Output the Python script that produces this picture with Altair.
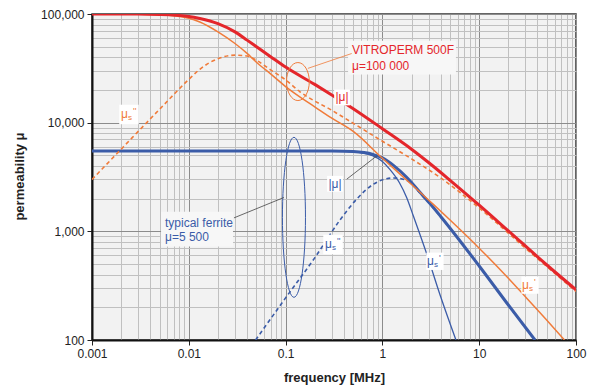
import json
import altair as alt
import pandas as pd

RED = "#e4262b"
ORANGE = "#f07b3a"
BLUE = "#3b5ca8"
FONT = "Liberation Sans"

# ---------------- data (frequency in MHz, permeability) ----------------
# VITROPERM 500F |mu|
vp_abs_f = [0.001, 0.003, 0.005, 0.01, 0.013, 0.02, 0.03, 0.04, 0.05, 0.07, 0.1, 0.2, 0.3,
            0.5, 1, 2, 3, 5, 10, 20, 50, 100]
vp_abs_mu = [100000, 99800, 99000, 95000, 91000, 81600, 68500, 57500, 50000, 40500, 32500, 22500,
             18000, 13450, 8800, 5700, 4300, 2950, 1740, 1010, 490, 290]
# VITROPERM 500F mu_s'
vp_re_f = [0.001, 0.003, 0.005, 0.01, 0.013, 0.02, 0.03, 0.04, 0.05, 0.07, 0.1, 0.14, 0.2, 0.3,
           0.5, 1, 2, 3.36, 5, 10, 20, 30, 50, 76]
vp_re_mu = [100000, 99600, 98500, 91500, 84500, 68500, 53500, 43400, 36000, 28100, 21500, 17300,
            14000, 11000, 8300, 4700, 2700, 1770, 1270, 700, 370, 250, 152, 100]
# VITROPERM 500F mu_s''
vp_im_f = [0.001, 0.002, 0.005, 0.01, 0.013, 0.02, 0.03, 0.04, 0.05, 0.07, 0.1, 0.14, 0.3, 1, 2,
           3.9, 10, 30, 100]
vp_im_mu = [3000, 5700, 13300, 25000, 31000, 38800, 41800, 41000, 37500, 30600, 24800, 19300,
            13000, 6750, 4640, 3150, 1640, 700, 280]
# typical ferrite |mu|
fe_abs_f = [0.001, 0.1, 0.3, 0.5, 0.8, 1, 1.3, 1.78, 2.6, 3.1, 4, 10, 20, 37.7]
fe_abs_mu = [5500, 5500, 5480, 5420, 5100, 4750, 4050, 3150, 2150, 1800, 1370, 480, 210, 100]
# typical ferrite mu_s'
fe_re_f = [0.001, 0.3, 0.5, 0.8, 1, 1.2, 1.5, 1.78, 2.08, 2.87, 4, 5.75]
fe_re_mu = [5500, 5490, 5400, 4950, 4400, 3700, 2800, 2050, 1400, 620, 250, 100]
# typical ferrite mu_s''
fe_im_f = [0.049, 0.1, 0.2, 0.36, 0.54, 0.8, 1.3, 1.78, 2.44, 3.1, 4, 10, 20, 37.7]
fe_im_mu = [100, 244, 570, 1250, 1970, 2700, 3100, 2950, 2250, 1790, 1360, 477, 209, 99]

x_major = [0.001, 0.01, 0.1, 1, 10, 100]
y_major = [100, 1000, 10000, 100000]
x_vals = [float(f"{k}e{e}") for e in range(-3, 2) for k in range(1, 10)] + [100.0]
y_vals = [float(f"{k}e{e}") for e in range(2, 5) for k in range(1, 10)] + [100000.0]

# annotation texts / anchors (data coordinates)
small_f = [0.383, 0.324, 0.00241, 0.309, 3.49, 33.5]
small_mu = [17060, 2740, 11900, 757, 530, 320]
small_base = ["|μ|", "|μ|", "μ", "μ", "μ", "μ"]
small_sub = ["", "", "s", "s", "s", "s"]
small_prime = ["", "", "''", "''", "'", "'"]
small_color = [RED, BLUE, ORANGE, BLUE, BLUE, ORANGE]
small_box = [250, 250, 380, 380, 300, 300]

big_text = ["VITROPERM 500F", "μ=100 000", "typical ferrite", "μ=5 500"]
big_f = [0.485, 0.485, 0.00568, 0.00568]
big_mu = [46900, 33500, 1200, 896]
big_color = [RED, RED, BLUE, BLUE]

box_f1 = [0.442, 0.00517]
box_f2 = [5.75, 0.0286]
box_mu1 = [56600, 1517]
box_mu2 = [27700, 726]

lead_f1 = [0.170, 0.0962, 0.428]
lead_mu1 = [31600, 2050, 3020]
lead_f2 = [0.482, 0.0293, 0.871]
lead_mu2 = [43300, 1330, 4930]
lead_color = [ORANGE, "#444444", "#444444"]

ell_f = [0.134, 0.122]
ell_mu = [23900, 1346]
ell_color = [ORANGE, BLUE]

# ---------------- scales / axes ----------------
def is_major(vals):
    return "indexof(" + json.dumps(vals) + ", datum.value) >= 0"

x_axis = alt.Axis(
    values=x_vals, format="~g", labelExpr=is_major(x_major) + " ? datum.label : ''",
    labelFlush=False, labelOverlap=False, grid=True,
    gridColor={"condition": {"test": is_major(x_major), "value": "#8c8c8c"}, "value": "#c0c0c0"},
    tickOpacity={"condition": {"test": is_major(x_major), "value": 1}, "value": 0},
    tickColor="#222222", tickSize=5, domainColor="#111111", domainWidth=2,
    labelFont=FONT, labelFontSize=12, labelColor="#222222", labelPadding=3,
    title="frequency [MHz]", titleFont=FONT, titleFontSize=13, titleFontWeight="bold",
    titleColor="#222222", titleY=31,
)
y_axis = alt.Axis(
    values=y_vals, format=",d", labelExpr=is_major(y_major) + " ? datum.label : ''",
    labelFlush=False, labelOverlap=False, grid=True,
    gridColor={"condition": {"test": is_major(y_major), "value": "#8c8c8c"}, "value": "#c0c0c0"},
    tickOpacity={"condition": {"test": is_major(y_major), "value": 1}, "value": 0},
    tickColor="#222222", tickSize=5, domainColor="#111111", domainWidth=2,
    labelFont=FONT, labelFontSize=12, labelColor="#222222", labelPadding=3,
    title="permeability μ", titleFont=FONT, titleFontSize=13, titleFontWeight="bold",
    titleColor="#222222", titleX=-66, titleY=162,
)
xs = alt.Scale(type="log", domain=[0.001, 100], nice=False)
ys = alt.Scale(type="log", domain=[100, 100000], nice=False)


def X(field="f"):
    return alt.X(f"{field}:Q", scale=xs, axis=x_axis)


def Y(field="mu"):
    return alt.Y(f"{field}:Q", scale=ys, axis=y_axis)


def curve(fs, mus, color, width, dash=None):
    df = pd.DataFrame({"f": fs, "mu": mus})
    kw = dict(color=color, strokeWidth=width, interpolate="monotone", clip=True)
    if dash:
        kw["strokeDash"] = dash
    return alt.Chart(df).mark_line(**kw).encode(x=X(), y=Y(), order=alt.Order("f:Q"))


boxes = alt.Chart(pd.DataFrame({"f": box_f1, "f2": box_f2, "mu": box_mu1, "mu2": box_mu2})).mark_rect(
    fill="#f7f7f7").encode(x=X(), x2="f2:Q", y=Y(), y2="mu2:Q")

curves = [
    curve(fe_re_f, fe_re_mu, BLUE, 1.3),
    curve(fe_im_f, fe_im_mu, BLUE, 1.6, [4, 3]),
    curve(fe_abs_f, fe_abs_mu, BLUE, 3),
    curve(vp_im_f, vp_im_mu, ORANGE, 1.6, [4, 3]),
    curve(vp_re_f, vp_re_mu, ORANGE, 1.5),
    curve(vp_abs_f, vp_abs_mu, RED, 3),
]

ell_df = pd.DataFrame({"f": ell_f, "mu": ell_mu, "c": ell_color})
ell1 = alt.Chart(ell_df.iloc[[0]]).mark_point(
    shape="M0 -1 A0.6 1 0 1 1 0 1 A0.6 1 0 1 1 0 -1 Z", size=1444, filled=False,
    strokeWidth=1, opacity=1).encode(x=X(), y=Y(), stroke=alt.Stroke("c:N", scale=None))
ell2 = alt.Chart(ell_df.iloc[[1]]).mark_point(
    shape="M0 -1 A0.144 1 0 1 1 0 1 A0.144 1 0 1 1 0 -1 Z", size=25600, filled=False,
    strokeWidth=1, opacity=1).encode(x=X(), y=Y(), stroke=alt.Stroke("c:N", scale=None))

leads = alt.Chart(pd.DataFrame({"f": lead_f1, "mu": lead_mu1, "f2": lead_f2, "mu2": lead_mu2,
                                "c": lead_color})).mark_rule(strokeWidth=0.8).encode(
    x=X(), y=Y(), x2="f2:Q", y2="mu2:Q", color=alt.Color("c:N", scale=None))

small_df = pd.DataFrame({"f": small_f, "mu": small_mu, "base": small_base, "sub": small_sub,
                         "prime": small_prime, "c": small_color, "s": small_box})
sbox = alt.Chart(small_df).mark_point(shape="square", filled=True, fill="white", opacity=1,
                                      strokeWidth=0).encode(
    x=X(), y=Y(), size=alt.Size("s:Q", scale=None))
mu_plain = alt.Chart(small_df[small_df["sub"] == ""]).mark_text(
    font=FONT, fontSize=12, align="center", baseline="middle").encode(
    x=X(), y=Y(), text="base:N", color=alt.Color("c:N", scale=None))
mu_s = alt.Chart(small_df[small_df["sub"] != ""]).mark_text(
    font=FONT, fontSize=12, align="left", baseline="middle", dx=-8).encode(
    x=X(), y=Y(), text="base:N", color=alt.Color("c:N", scale=None))
mu_sub = alt.Chart(small_df[small_df["sub"] != ""]).mark_text(
    font=FONT, fontSize=8, align="left", baseline="middle", dx=-1, dy=4).encode(
    x=X(), y=Y(), text="sub:N", color=alt.Color("c:N", scale=None))
mu_prime = alt.Chart(small_df[small_df["sub"] != ""]).mark_text(
    font=FONT, fontSize=9, align="left", baseline="middle", dx=4, dy=-3).encode(
    x=X(), y=Y(), text="prime:N", color=alt.Color("c:N", scale=None))

big = alt.Chart(pd.DataFrame({"f": big_f, "mu": big_mu, "t": big_text, "c": big_color})).mark_text(
    font=FONT, fontSize=12, align="left", baseline="middle").encode(
    x=X(), y=Y(), text="t:N", color=alt.Color("c:N", scale=None))

chart = alt.layer(
    boxes, *curves, ell1, ell2, leads, sbox, mu_plain, mu_s, mu_sub, mu_prime, big
).properties(
    width=484, height=326,
    autosize=alt.AutoSizeParams(type="none"),
    padding={"left": 84, "top": 6, "right": 11, "bottom": 48},
).configure_view(fill="#f2f2f2", stroke="#333333", strokeWidth=1.5)

chart.save("out.html", embed_options={"renderer": "svg", "actions": False})
